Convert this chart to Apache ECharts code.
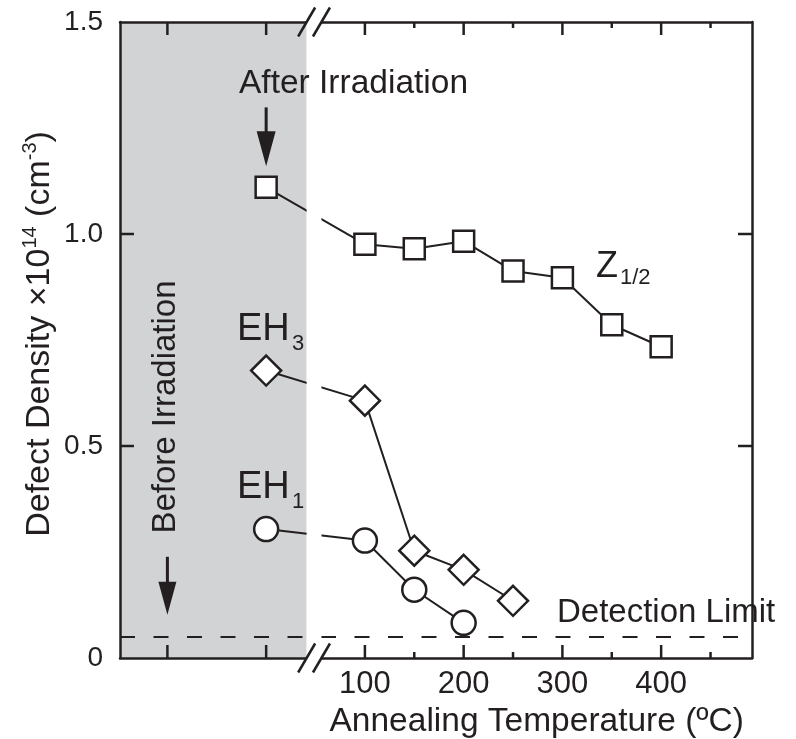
<!DOCTYPE html>
<html>
<head>
<meta charset="utf-8">
<title>Defect density vs annealing temperature</title>
<script src="https://cdn.jsdelivr.net/npm/echarts@6/dist/echarts.min.js"></script>
<style>
  html, body { margin: 0; padding: 0; background: #ffffff; }
  #chart { width: 796px; height: 739px; }
</style>
</head>
<body>
<div id="chart"></div>
<script>
// x positions of the two reference states left of the axis break
const beforeIrradiationX = -100;
const afterIrradiationX = 0;

// annealing temperatures (degC)
const annealTemps = [100, 150, 200, 250, 300, 350, 400];

// defect densities (x1e14 cm^-3)
const z12AfterIrr = 1.11;
const z12Annealed = [0.976, 0.965, 0.983, 0.913, 0.897, 0.786, 0.734];
const eh3AfterIrr = 0.678;
const eh3Annealed = [0.607, 0.253, 0.208, 0.135];
const eh1AfterIrr = 0.304;
const eh1Annealed = [0.277, 0.161, 0.083];
const detectionLimit = 0.05;

// axis ticks
const majorTicksX = [-100, 0, 100, 200, 300, 400];
const minorTicksX = [150, 250, 350, 450];
const tickLabelsX = [100, 200, 300, 400];
const yTickValues = [0.5, 1.0];

// axis extent and the broken stretch of the x axis
const xMin = -148, xMax = 492;
const breakStart = 41, breakEnd = 56;

const ink = '#231f20';
const shade = '#d1d3d4';
const FONT = '"Liberation Sans", Arial, Helvetica, sans-serif';

function withAfter(x0, y0, ys) {
  return [[x0, y0]].concat(ys.map((v, i) => [annealTemps[i], v]));
}

const chart = echarts.init(document.getElementById('chart'), null, { renderer: 'canvas' });

const lineStyleAxis = { color: ink, width: 2.5 };

function xAxisDef(position, labels) {
  return {
    type: 'value', position: position, min: xMin, max: xMax, z: 8,
    axisLine: { show: true, onZero: false, lineStyle: lineStyleAxis },
    axisTick: { show: false },
    axisLabel: labels ? {
      show: true, customValues: tickLabelsX, fontSize: 31, fontFamily: FONT, color: ink, margin: 11
    } : { show: false },
    splitLine: { show: false }
  };
}

function yAxisDef(position, labels) {
  return {
    type: 'value', position: position, min: 0, max: 1.5, interval: 0.5, z: 8,
    axisLine: { show: true, onZero: false, lineStyle: lineStyleAxis },
    axisTick: { show: false },
    axisLabel: labels ? {
      show: true, fontSize: 28, fontFamily: FONT, color: ink, margin: 17,
      formatter: v => (v === 0 ? '0' : v.toFixed(1))
    } : { show: false },
    splitLine: { show: false }
  };
}

const markerItem = { color: '#ffffff', borderColor: ink, borderWidth: 2.5 };
const seriesLine = { color: ink, width: 2 };

chart.setOption({
  animation: false,
  backgroundColor: '#ffffff',
  grid: { left: 120, right: 44, top: 22, bottom: 81, containLabel: false },
  xAxis: [xAxisDef('bottom', true), xAxisDef('top', false)],
  yAxis: [yAxisDef('left', true), yAxisDef('right', false)],
  series: [
    {
      name: 'Z1/2', type: 'line', xAxisIndex: 0, yAxisIndex: 0, z: 4,
      data: withAfter(afterIrradiationX, z12AfterIrr, z12Annealed),
      symbol: 'rect', symbolSize: 21,
      lineStyle: seriesLine, itemStyle: markerItem,
      markArea: {
        silent: true, itemStyle: { color: shade },
        data: [[{ xAxis: xMin }, { xAxis: breakStart }]]
      },
      markLine: {
        silent: true, symbol: 'none', label: { show: false },
        lineStyle: { color: ink, width: 2, type: [15, 18.5] },
        data: [{ yAxis: detectionLimit }]
      }
    },
    {
      name: 'EH3', type: 'line', xAxisIndex: 0, yAxisIndex: 0, z: 4,
      data: withAfter(afterIrradiationX, eh3AfterIrr, eh3Annealed),
      symbol: 'diamond', symbolSize: 30,
      lineStyle: seriesLine, itemStyle: markerItem
    },
    {
      name: 'EH1', type: 'line', xAxisIndex: 0, yAxisIndex: 0, z: 4,
      data: withAfter(afterIrradiationX, eh1AfterIrr, eh1Annealed),
      symbol: 'circle', symbolSize: 24,
      lineStyle: seriesLine, itemStyle: markerItem
    }
  ]
});

// overlay: ticks, axis break, arrows and annotations, placed through the axis scales
const px = (x, y) => chart.convertToPixel({ xAxisIndex: 0, yAxisIndex: 0 }, [x, y]);
const gridTopY = px(0, 1.5)[1];
const gridBottomY = px(0, 0)[1];
const gridLeftX = px(xMin, 0)[0];
const gridRightX = px(xMax, 0)[0];
const bx0 = px(breakStart, 0)[0];
const bx1 = px(breakEnd, 0)[0];
const TW = 2.5;

// ticks live on their own canvas layer, above the plot contents
function tickRect(x, y, w, h) {
  return {
    type: 'rect', zlevel: 1, z: 1, silent: true,
    shape: { x: x, y: y, width: w, height: h }, style: { fill: ink }
  };
}

function xTicks(values, len) {
  const out = [];
  values.forEach(v => {
    const x = px(v, 0)[0];
    out.push(tickRect(x - TW / 2, gridBottomY - len, TW, len));
    out.push(tickRect(x - TW / 2, gridTopY, TW, len));
  });
  return out;
}

function yTicks(values, len) {
  const out = [];
  values.forEach(v => {
    const y = px(0, v)[1];
    out.push(tickRect(gridLeftX, y - TW / 2, len, TW));
    out.push(tickRect(gridRightX - len, y - TW / 2, len, TW));
  });
  return out;
}

function slash(cx, cy) {
  return {
    type: 'line', z: 21, silent: true,
    shape: { x1: cx - 8.5, y1: cy + 14.5, x2: cx + 8.5, y2: cy - 14.5 },
    style: { stroke: ink, lineWidth: 2.5 }
  };
}

function downArrow(x, tipY, shaftLen, headLen, headW) {
  return [
    { type: 'rect', z: 22, silent: true,
      shape: { x: x - 1.5, y: tipY - headLen - shaftLen, width: 3, height: shaftLen + 2 },
      style: { fill: ink } },
    { type: 'polygon', z: 22, silent: true,
      shape: { points: [[x - headW / 2, tipY - headLen], [x + headW / 2, tipY - headLen], [x, tipY]] },
      style: { fill: ink } }
  ];
}

function label(text, x, y, size, opts) {
  return Object.assign({
    type: 'text', z: 22, silent: true, x: x, y: y,
    style: Object.assign({
      text: text, fill: ink, fontSize: size, fontFamily: FONT,
      align: 'left', verticalAlign: 'middle'
    }, (opts && opts.style) || {})
  }, (opts && opts.el) || {});
}

const afterPt = px(afterIrradiationX, z12AfterIrr);
const beforeX = px(beforeIrradiationX, 0)[0];
const limitY = px(0, detectionLimit)[1];

const graphics = xTicks(majorTicksX, 13)
  .concat(xTicks(minorTicksX, 6))
  .concat(yTicks(yTickValues, 14))
  .concat([
    // white gap of the axis break
    { type: 'rect', z: 20, silent: true,
      shape: { x: bx0, y: gridTopY - 4, width: bx1 - bx0, height: gridBottomY - gridTopY + 8 },
      style: { fill: '#ffffff' } },
    slash(bx0, gridTopY), slash(bx1, gridTopY),
    slash(bx0, gridBottomY), slash(bx1, gridBottomY)
  ])
  .concat(downArrow(afterPt[0], afterPt[1] - 21, 24, 35, 19))
  .concat(downArrow(beforeX, limitY - 22, 25, 33, 18))
  .concat([
    label('After Irradiation', 239, 84, 33.5),
    label('Before Irradiation', beforeX - 1, 407, 33,
      { el: { rotation: Math.PI / 2 }, style: { align: 'center' } }),
    label('EH', 237, 330, 38),
    label('3', 292, 344, 22),
    label('EH', 237, 488, 38),
    label('1', 292, 502, 22),
    label('Z', 596, 267, 36),
    label('1/2', 620, 278, 22),
    label('Detection Limit', 557, 613, 33),
    label('Annealing Temperature (ºC)', (bx1 + gridRightX) / 2, 722, 33.5, { style: { align: 'center' } }),
    {
      type: 'text', z: 22, silent: true, x: 40, y: 334, rotation: Math.PI / 2,
      style: {
        text: '{n|Defect Density ×10}{s|14}{n| (cm}{s|-3}{n|)}',
        fill: ink, fontFamily: FONT, fontSize: 34,
        align: 'center', verticalAlign: 'middle',
        rich: {
          n: { fontSize: 34, fontFamily: FONT, fill: ink, lineHeight: 40, verticalAlign: 'middle' },
          s: { fontSize: 20, fontFamily: FONT, fill: ink, verticalAlign: 'top' }
        }
      }
    }
  ]);

chart.setOption({ graphic: { elements: graphics } });
</script>
</body>
</html>
